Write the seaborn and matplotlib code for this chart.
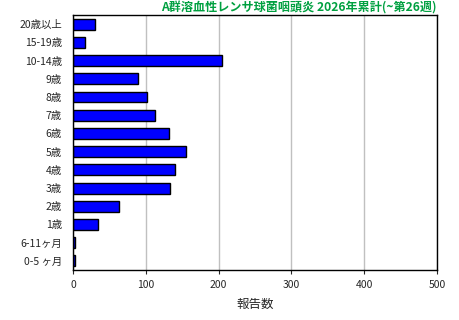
import numpy as np
import pandas as pd
import seaborn as sns
import matplotlib.pyplot as plt

# %% Data
lst_ages = ['20歳以上', '15-19歳', '10-14歳', '9歳', '8歳', '7歳', '6歳',
            '5歳', '4歳', '3歳', '2歳', '1歳', '6-11ヶ月', '0-5 ヶ月']
lst_counts = [30, 16, 205, 89, 101, 112, 132, 155, 140, 133, 63, 34, 3, 3]
lst_xticks = [0, 100, 200, 300, 400, 500]

str_title = 'A群溶血性レンサ球菌咽頭炎 2026年累計(~第26週)'
str_xlabel = '報告数'

df = pd.DataFrame({'age': lst_ages, 'count': lst_counts})

# %% Plot
sns.set_style('white')
plt.rcParams['font.family'] = ['Noto Sans CJK JP', 'DejaVu Sans']

fig = plt.figure(figsize=(4.6, 3.2), dpi=100)
ax = fig.add_axes([73 / 460, 1 - 270 / 320, 364 / 460, 255 / 320])

sns.barplot(data=df, x='count', y='age', orient='h', color='#0000ff',
            saturation=1, edgecolor='black', linewidth=1, width=0.6, ax=ax)

ax.set_xlim(0, 500)
ax.set_xticks(lst_xticks)
ax.xaxis.grid(True, color='#c0c0c0', linewidth=1)
ax.set_axisbelow(True)
ax.tick_params(axis='x', labelsize=7.5, length=3, direction='out',
               bottom=True, pad=4)
ax.tick_params(axis='y', labelsize=7.5, length=0, pad=8)
for spine in ax.spines.values():
    spine.set_color('black')
    spine.set_linewidth(1)
ax.set_ylabel('')
ax.set_xlabel(str_xlabel, fontsize=9, labelpad=6)

fig.text(437 / 460, 1 - 8 / 320, str_title, ha='right', va='center',
         fontsize=8.7, fontweight='bold', color='#00a040')

fig.savefig('out.png', dpi=100)
